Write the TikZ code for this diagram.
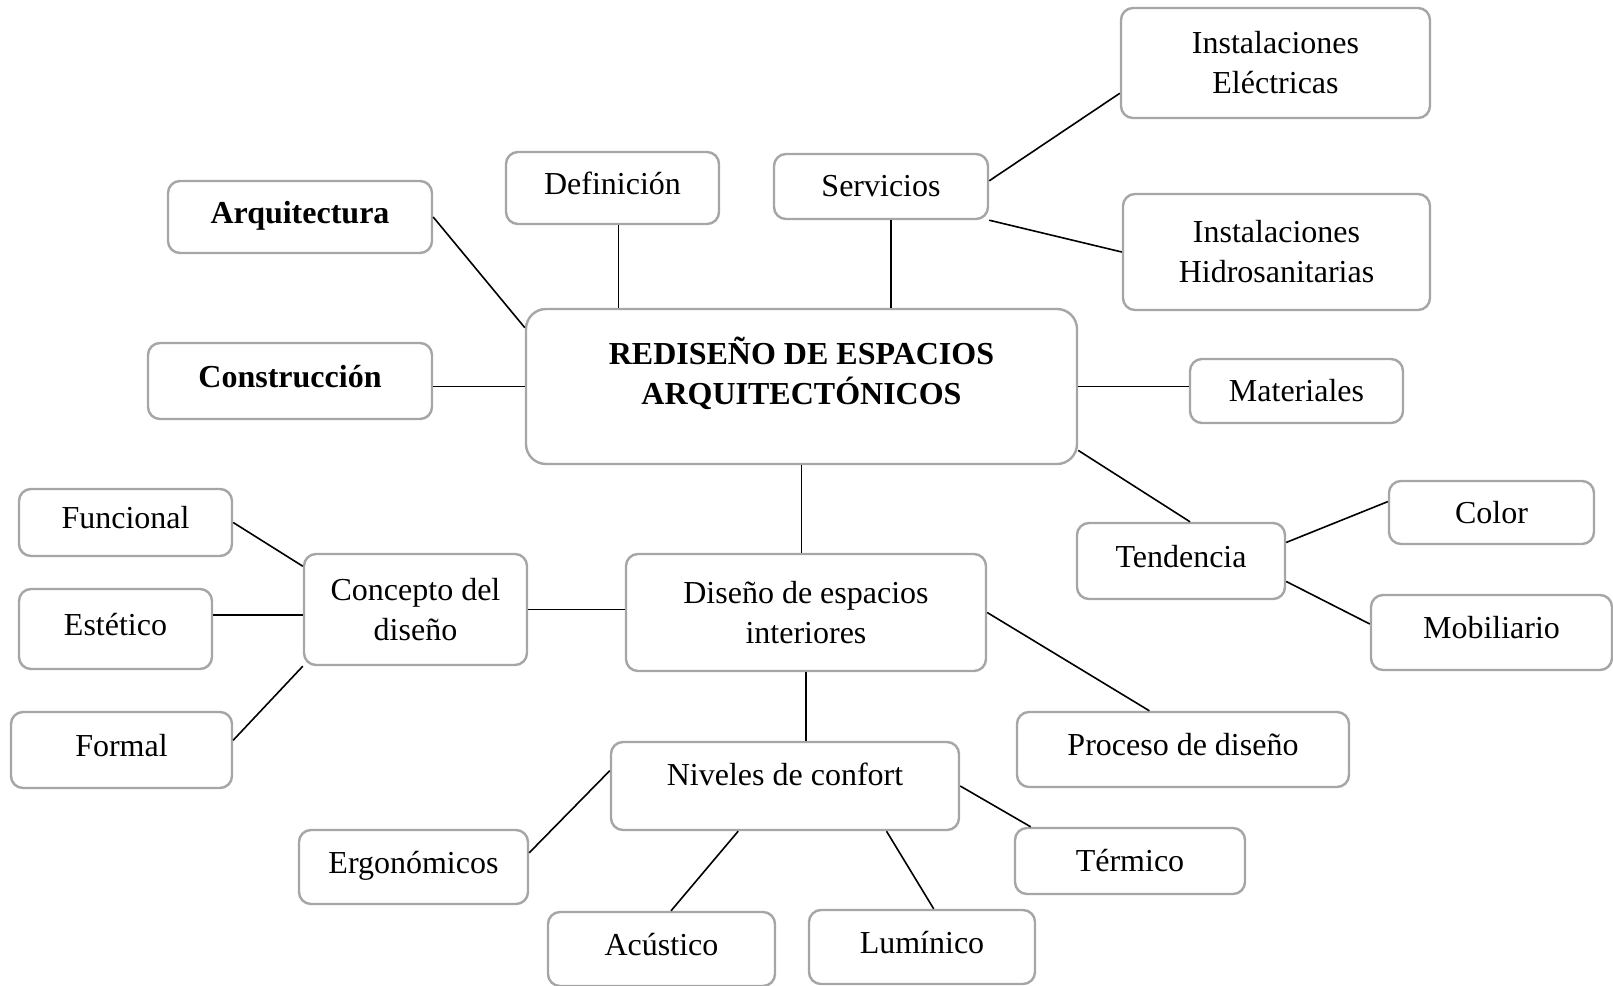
\documentclass[tikz,border=0pt]{standalone}
\usepackage{fontspec}
\setmainfont{Liberation Serif}
\tikzset{
  caja/.style={draw=black!35, line width=1.2pt, rounded corners=6pt, fill=white, align=center, inner sep=2pt, font=\fontsize{16}{20}\selectfont},
  una/.style={text height=11pt, text depth=5pt},
  enlace/.style={line width=0.8pt}
}
\begin{document}
\begin{tikzpicture}[x=0.5pt, y=-0.5pt]
   \useasboundingbox (0,0) rectangle (1613,986);

   \node[caja, rounded corners=10pt, minimum width=275.5pt, minimum height=77.5pt, text depth=16pt] (cen) at (801.5,386.5) {\textbf{REDISEÑO DE ESPACIOS}\\\textbf{ARQUITECTÓNICOS}};

   \node[caja, minimum width=154.5pt, minimum height=55pt] (ele) at (1275.5,63) {Instalaciones\\Eléctricas};
   \node[caja, una, minimum width=106.5pt, minimum height=36pt] (def) at (612.5,188) {Definición};
   \node[caja, minimum width=107pt, minimum height=32.5pt] (ser) at (881,186.5) {Servicios};
   \node[caja, una, minimum width=132pt, minimum height=36pt] (arq) at (300,217) {\textbf{Arquitectura}};
   \node[caja, minimum width=153.5pt, minimum height=58pt] (hid) at (1276.5,252) {Instalaciones\\Hidrosanitarias};
   \node[caja, una, minimum width=142pt, minimum height=38pt] (con) at (290,381) {\textbf{Construcción}};
   \node[caja, minimum width=106.5pt, minimum height=32pt] (mat) at (1296.5,391) {Materiales};
   \node[caja, una, minimum width=104pt, minimum height=38pt] (ten) at (1181,561) {Tendencia};
   \node[caja, minimum width=102.5pt, minimum height=31.5pt] (col) at (1491.5,512.5) {Color};
   \node[caja, una, minimum width=120.5pt, minimum height=37.5pt] (mob) at (1491.5,632.5) {Mobiliario};

   \node[caja, minimum width=180pt, minimum height=58.5pt] (dis) at (806,612.5) {Diseño de espacios\\interiores};
   \node[caja, minimum width=111.5pt, minimum height=55.5pt] (cpt) at (415.5,609.5) {Concepto del\\diseño};
   \node[caja, una, minimum width=106.5pt, minimum height=33.5pt] (fun) at (125.5,522.5) {Funcional};
   \node[caja, una, minimum width=96.5pt, minimum height=40pt] (est) at (115.5,629) {Estético};
   \node[caja, una, minimum width=110.5pt, minimum height=38pt] (frm) at (121.5,750) {Formal};
   \node[caja, una, minimum width=166pt, minimum height=37.5pt] (pro) at (1183,749.5) {Proceso de diseño};

   \node[caja, minimum width=174pt, minimum height=44pt, text depth=11.4pt] (niv) at (785,786) {Niveles de confort};
   \node[caja, una, minimum width=114.5pt, minimum height=37pt] (erg) at (413.5,867) {Ergonómicos};
   \node[caja, minimum width=115pt, minimum height=33pt] (ter) at (1130,861) {Térmico};
   \node[caja, una, minimum width=113.5pt, minimum height=37pt] (acu) at (661.5,949) {Acústico};
   \node[caja, una, minimum width=113pt, minimum height=37pt] (lum) at (922,947) {Lumínico};

   \draw[enlace] (arq.east) -- (cen.168);
   \draw[enlace] (cen.west) -- (cen.west -| con.east);
   \draw[enlace] ([xshift=3pt]def.south) -- ([xshift=3pt]def.south |- cen.north);
   \draw[enlace] ([xshift=5pt]ser.south) -- ([xshift=5pt]ser.south |- cen.north);
   \draw[enlace] (ser.3) -- (ele.191);
   \draw[enlace] (ser.south east) -- (hid.west);
   \draw[enlace] (cen.east) -- (cen.east -| mat.west);
   \draw[enlace] (cen.-13) -- (ten.77);
   \draw[enlace] (ten.10) -- (col.174);
   \draw[enlace] (ten.-11) -- (mob.176);

   \draw[enlace] (cen.south) -- (cen.south |- dis.north);
   \draw[enlace] (cpt.east) -- (cpt.east -| dis.west);
   \draw[enlace] (fun.east) -- (cpt.159);
   \draw[enlace] (est.8) -- (est.8 -| cpt.west);
   \draw[enlace] (frm.5) -- (cpt.south west);
   \draw[enlace] (dis.east) -- (pro.131);

   \draw[enlace] (dis.south) -- (dis.south |- niv.north);
   \draw[enlace] (niv.175) -- (erg.7);
   \draw[enlace] (niv.224) -- (acu.76);
   \draw[enlace] (niv.-24) -- (lum.73);
   \draw[enlace] (niv.east) -- (ter.161);
\end{tikzpicture}
\end{document}
